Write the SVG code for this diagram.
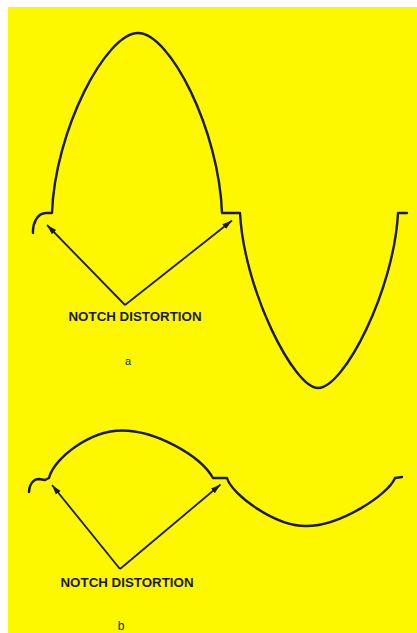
<svg xmlns="http://www.w3.org/2000/svg" width="417" height="633" viewBox="0 0 417 633">
  <defs>
    <style>
      .wave { fill: none; stroke: #1c1a10; stroke-width: 2.4; stroke-linejoin: round; stroke-linecap: round; }
      .arrow { fill: none; stroke: #1c1a10; stroke-width: 1.8; marker-end: url(#head); }
      .lbl { font-family: "Liberation Sans", Arial, sans-serif; fill: #1c1a10; }
      .cap { font-size: 13.5px; font-weight: bold; }
    </style>
    <marker id="head" markerUnits="userSpaceOnUse" markerWidth="12" markerHeight="10" refX="10" refY="4" orient="auto">
      <path d="M0,1 L10,4 L0,7 Z" fill="#1c1a10"/>
    </marker>
  </defs>

  <rect x="0" y="0" width="417" height="633" fill="#ffffff"/>
  <rect id="background" x="8" y="7" width="409" height="626" fill="#fdf800"/>

  <g id="wave-a">
    <path class="wave" d="M33,233 C32.5,224 37,213 46,213 L52,213 C55,130 106,33 138,33 C170,33 219,130 222,213 L240,213 C244,290 294,388 318,388 C344,388 394,290 398,213 L407,213"/>
  </g>

  <g id="wave-b">
    <path class="wave" d="M29,492 C29,485 33,479 39,479 L45,480 L49,478 C54,458 90,430.5 122,430.5 C155,430.5 200,455 213,478 L227,478 C232,495 275,526 306,526 C340,526 388,495 395,478 L402,477"/>
  </g>

  <g id="connectors">
    <line class="arrow" x1="125" y1="305" x2="47" y2="225"/>
    <line class="arrow" x1="125" y1="305" x2="232" y2="220.5"/>
    <line class="arrow" x1="120" y1="569" x2="52" y2="485"/>
    <line class="arrow" x1="120" y1="569" x2="220.5" y2="484.5"/>
  </g>

  <g id="label-a">
    <text class="lbl cap" x="135" y="321" text-anchor="middle" textLength="133" lengthAdjust="spacingAndGlyphs">NOTCH DISTORTION</text>
    <text class="lbl" x="128" y="365" font-size="11" text-anchor="middle">a</text>
  </g>

  <g id="label-b">
    <text class="lbl cap" x="127" y="587" text-anchor="middle" textLength="133" lengthAdjust="spacingAndGlyphs">NOTCH DISTORTION</text>
    <text class="lbl" x="121" y="630" font-size="12" text-anchor="middle">b</text>
  </g>
</svg>
